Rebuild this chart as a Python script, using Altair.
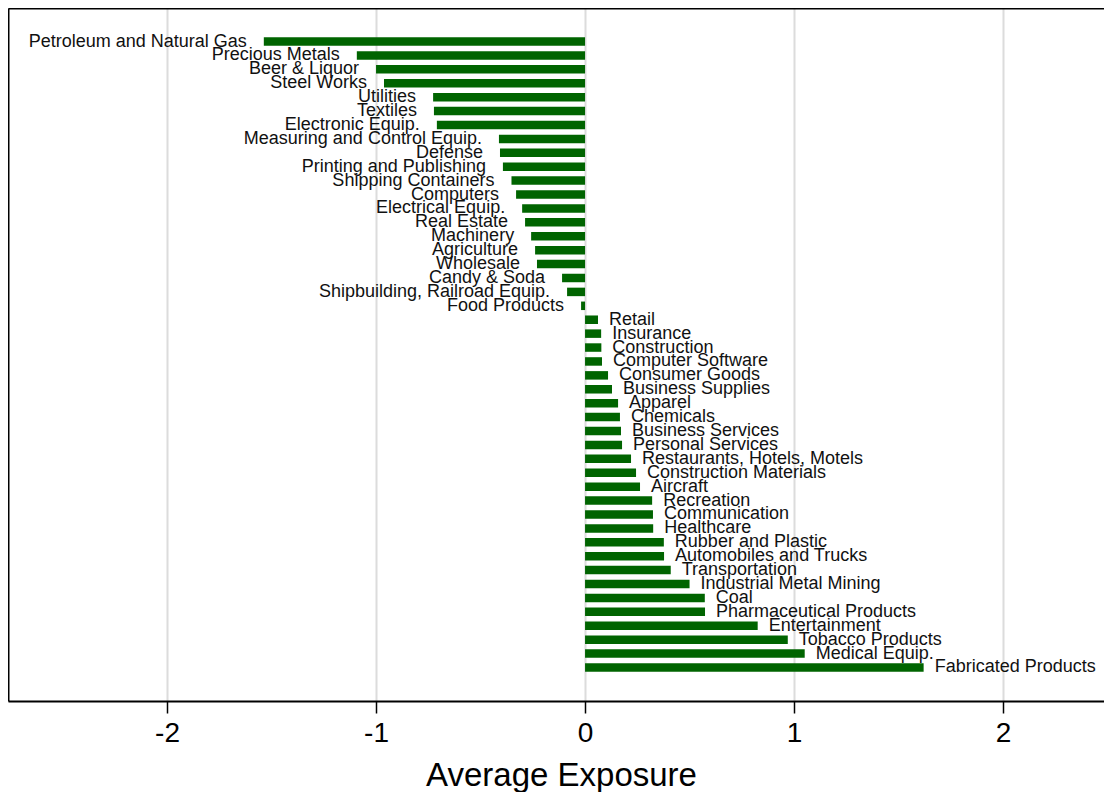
import altair as alt
import pandas as pd

industries = [
    "Petroleum and Natural Gas", "Precious Metals", "Beer & Liquor", "Steel Works",
    "Utilities", "Textiles", "Electronic Equip.", "Measuring and Control Equip.",
    "Defense", "Printing and Publishing", "Shipping Containers", "Computers",
    "Electrical Equip.", "Real Estate", "Machinery", "Agriculture", "Wholesale",
    "Candy & Soda", "Shipbuilding, Railroad Equip.", "Food Products",
    "Retail", "Insurance", "Construction", "Computer Software", "Consumer Goods",
    "Business Supplies", "Apparel", "Chemicals", "Business Services",
    "Personal Services", "Restaurants, Hotels, Motels", "Construction Materials",
    "Aircraft", "Recreation", "Communication", "Healthcare", "Rubber and Plastic",
    "Automobiles and Trucks", "Transportation", "Industrial Metal Mining", "Coal",
    "Pharmaceutical Products", "Entertainment", "Tobacco Products",
    "Medical Equip.", "Fabricated Products",
]
exposure = [
    -1.537, -1.092, -1.000, -0.962,
    -0.727, -0.723, -0.709, -0.412,
    -0.407, -0.393, -0.352, -0.330,
    -0.301, -0.287, -0.258, -0.239, -0.230,
    -0.110, -0.086, -0.019,
    0.062, 0.077, 0.078, 0.081, 0.110,
    0.129, 0.158, 0.167, 0.172,
    0.177, 0.220, 0.244,
    0.263, 0.321, 0.325, 0.326, 0.377,
    0.378, 0.410, 0.500, 0.573,
    0.574, 0.826, 0.970,
    1.051, 1.620,
]
tick_values = [-2, -1, 0, 1, 2]

df = pd.DataFrame({"industry": industries, "exposure": exposure})
df["rank"] = range(1, len(industries) + 1)

FONT = "Liberation Sans"
n = len(industries)
x_scale = alt.Scale(domain=[-2.761, 2.483], nice=False, zero=False)
y_scale = alt.Scale(domain=[1 - 2.05, n + 2.05], reverse=True, nice=False, zero=False)

x_axis_bottom = alt.Axis(
    values=tick_values, labelExpr="'' + datum.value",
    title="Average Exposure", titleFontSize=33, titleFontWeight="normal",
    titleColor="black", titlePadding=12, titleX=553, titleAlign="center",
    labelFontSize=28, labelColor="black", labelPadding=6,
    tickSize=12, tickColor="black", tickWidth=1.5,
    grid=True, gridColor="#dcdcdc", gridWidth=2,
    domainColor="black", domainWidth=2,
)
y_axis = alt.Axis(labels=False, ticks=False, title=None, grid=False,
                  domainColor="black", domainWidth=2)

bars = alt.Chart(df).mark_bar(color="#006400", orient="horizontal", height=8.5).encode(
    x=alt.X("exposure:Q", scale=x_scale, stack=None, axis=x_axis_bottom),
    x2=alt.datum(0),
    y=alt.Y("rank:Q", scale=y_scale, axis=y_axis),
)

neg_text = alt.Chart(df).transform_filter("datum.exposure < 0").mark_text(
    align="right", baseline="middle", dx=-17, fontSize=18, font=FONT, color="#111111"
).encode(
    x=alt.X("exposure:Q", scale=x_scale, axis=x_axis_bottom),
    y=alt.Y("rank:Q", scale=y_scale, axis=y_axis),
    text="industry:N",
)

pos_text = alt.Chart(df).transform_filter("datum.exposure >= 0").mark_text(
    align="left", baseline="middle", dx=11, fontSize=18, font=FONT, color="#111111"
).encode(
    x=alt.X(
        "exposure:Q", scale=x_scale,
        axis=alt.Axis(orient="top", labels=False, ticks=False, grid=False,
                      title=None, domainColor="black", domainWidth=2),
    ),
    y=alt.Y("rank:Q", scale=y_scale, axis=y_axis),
    text="industry:N",
)

inner = alt.layer(bars, neg_text)
chart = alt.layer(inner, pos_text).resolve_axis(x="independent").properties(
    width=1096, height=693,
    padding={"left": 0, "top": 0, "right": 0, "bottom": 0},
).configure(font=FONT).configure_view(stroke=None)

chart.save("out.html", embed_options={"renderer": "svg", "actions": False})
